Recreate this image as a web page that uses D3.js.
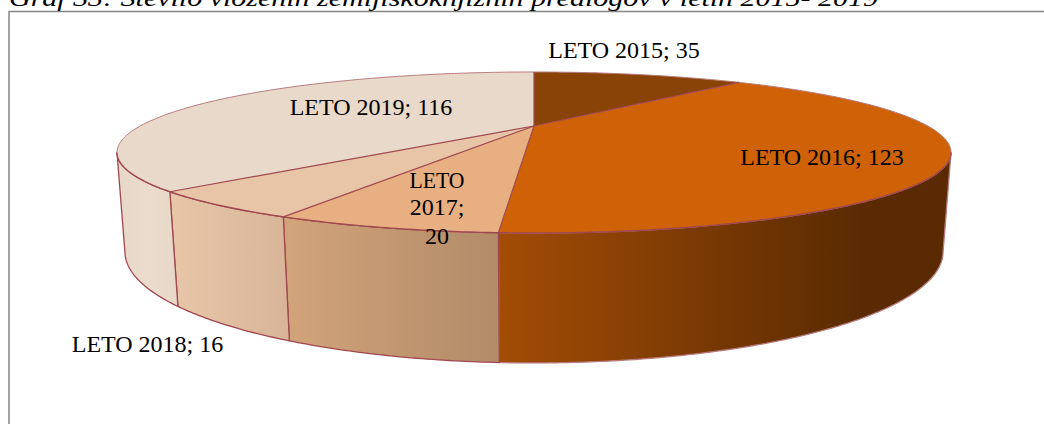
<!DOCTYPE html>
<html>
<head>
<meta charset="utf-8">
<script src="https://cdnjs.cloudflare.com/ajax/libs/d3/7.8.5/d3.min.js"></script>
<style>
html, body { margin: 0; padding: 0; background: #fff; overflow: hidden; }
text { font-family: "Liberation Serif", serif; fill: #000; }
</style>
</head>
<body>
<div id="chart"></div>
<script>
const categories = ['LETO 2015', 'LETO 2016', 'LETO 2017', 'LETO 2018', 'LETO 2019'];
const values = [35, 123, 20, 16, 116];
const titleText = 'Graf 33: Število vloženih zemljiškoknjižnih predlogov v letih 2015- 2019';

const topColors = ['#8a4306', '#cf6207', '#e8af82', '#e8c5a7', '#e9d9ca'];
// side wall gradients, left to right
const wallColors = [
    ['#8a4306', '#8a4306'],
    ['#a34c05', '#5a2b02', '#5a2b02'],
    ['#d2a47a', '#b28b69'],
    ['#e8c6a8', '#d8b598'],
    ['#e7d7c8', '#ecdccd', '#e8d8c8']
];

const width = 1044;
const height = 424;

// perspective camera fitted to the tilted pie
const cx = 534, cy = 126;
const rx = 393.8, ry = 71.8;
const tilt = 0.329;
const drop = 91.3, shrink = 0.0174;

// angle runs clockwise from the back of the pie, h = 0 on top, 1 on the floor
function project(a, h) {
    const u = Math.sin(a);
    const v = -Math.cos(a);
    const w = 1 - tilt * v + shrink * h;
    return [cx + rx * u / w, cy + (ry * v + drop * h) / w];
}

// the wall is visible between the two tangent points of the top rim
const wallFrom = Math.acos(-tilt);
const wallTo = 2 * Math.PI - wallFrom;

function arcPoints(a0, a1, h) {
    const n = Math.max(2, Math.ceil(Math.abs(a1 - a0) / 0.01));
    return d3.range(n + 1).map(i => project(a0 + (a1 - a0) * i / n, h));
}

const line = d3.line();
const pie = d3.pie().sort(null).value(d => d.value);
const slices = pie(categories.map((c, i) => ({ name: c, value: values[i], index: i })));

const svg = d3.select('#chart').append('svg')
    .attr('width', width)
    .attr('height', height)
    .style('display', 'block');

const defs = svg.append('defs');

// frame runs off the right and bottom of the picture
svg.append('path')
    .attr('d', `M9,${height + 2}V11.5H${width + 2}`)
    .attr('fill', 'none')
    .attr('stroke', '#868686')
    .attr('stroke-width', 1.5);

// the title is cut by the top edge in the original too
svg.append('text')
    .attr('x', 9)
    .attr('y', 6)
    .attr('font-size', 24)
    .attr('font-style', 'italic')
    .attr('textLength', 869)
    .attr('lengthAdjust', 'spacingAndGlyphs')
    .text(titleText);

const stroke = '#a0484f';
const paleStroke = '#b87a7c';

// side walls
const walls = slices
    .map(s => ({ s, a0: Math.max(s.startAngle, wallFrom), a1: Math.min(s.endAngle, wallTo) }))
    .filter(d => d.a1 > d.a0);

walls.forEach(d => {
    const i = d.s.data.index;
    const topArc = arcPoints(d.a0, d.a1, 0);
    const floorArc = arcPoints(d.a1, d.a0, 1);
    const pts = topArc.concat(floorArc);
    const xs = d3.extent(pts, p => p[0]);
    const colors = wallColors[i];

    const grad = defs.append('linearGradient')
        .attr('id', 'wall' + i)
        .attr('gradientUnits', 'userSpaceOnUse')
        .attr('x1', xs[0]).attr('x2', xs[1])
        .attr('y1', 0).attr('y2', 0);
    grad.selectAll('stop')
        .data(colors)
        .join('stop')
        .attr('offset', (c, k) => {
            if (i === 1 && k === 1) return 0.8;
            return k / (colors.length - 1);
        })
        .attr('stop-color', c => c);

    svg.append('path')
        .attr('d', line(pts) + 'Z')
        .attr('fill', `url(#wall${i})`)
        .attr('stroke', i === 1 ? paleStroke : stroke)
        .attr('stroke-width', 1.3)
        .attr('stroke-linejoin', 'round');
});

// top faces
svg.selectAll('path.top')
    .data(slices)
    .join('path')
    .attr('class', 'top')
    .attr('d', d => line([[cx, cy]].concat(arcPoints(d.startAngle, d.endAngle, 0))) + 'Z')
    .attr('fill', d => topColors[d.data.index]);

// rim is fainter at the back, stronger along the front
svg.append('path')
    .attr('d', line(arcPoints(wallTo, wallFrom + 2 * Math.PI, 0)))
    .attr('fill', 'none')
    .attr('stroke', paleStroke)
    .attr('stroke-width', 1);

svg.append('path')
    .attr('d', line(arcPoints(wallFrom, wallTo, 0)))
    .attr('fill', 'none')
    .attr('stroke', stroke)
    .attr('stroke-width', 1.4);

// spokes
svg.selectAll('path.spoke')
    .data(slices)
    .join('path')
    .attr('class', 'spoke')
    .attr('d', d => line([[cx, cy], project(d.startAngle, 0)]))
    .attr('fill', 'none')
    .attr('stroke', stroke)
    .attr('stroke-width', 1.2);

// data labels, placed by hand like the original
const labelPlaces = [
    { x: 624, lines: [58] },
    { x: 822, lines: [165] },
    { x: 437, lines: [188, 215, 244] },
    { x: 147.5, lines: [352] },
    { x: 371, lines: [115] }
];

slices.forEach((s, i) => {
    const place = labelPlaces[i];
    const full = `${s.data.name}; ${s.data.value}`;
    const rows = place.lines.length > 1 ? ['LETO', '2017;', String(s.data.value)] : [full];
    rows.forEach((row, k) => {
        const label = svg.append('text')
            .attr('x', place.x)
            .attr('y', place.lines[k])
            .attr('text-anchor', 'middle')
            .attr('font-size', 24)
            .text(row);
        // shrink the wide capitals a little, the original face is narrower
        if (row === 'LETO') {
            label.attr('textLength', 55).attr('lengthAdjust', 'spacingAndGlyphs');
        }
    });
});
</script>
</body>
</html>
